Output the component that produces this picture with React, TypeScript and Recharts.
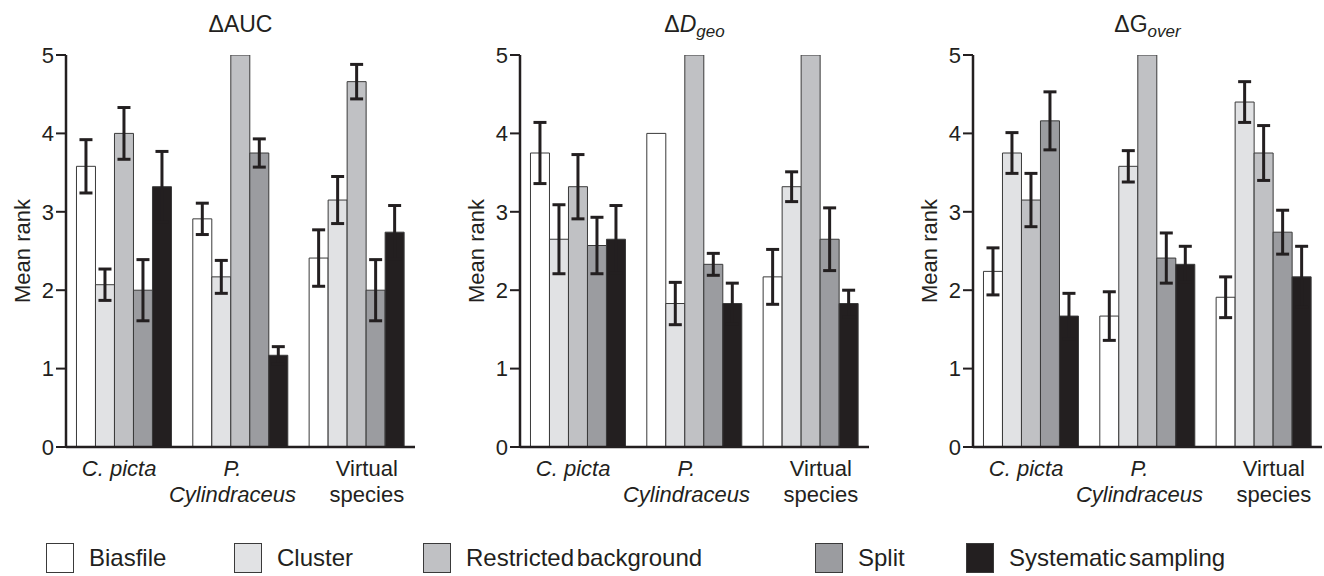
import React from "react";
import { BarChart, Bar, XAxis, YAxis, ErrorBar, Label } from "recharts";

const categories = ["C. picta", "P. Cylindraceus", "Virtual species"];
const categoryLines = [["C. picta"], ["P.", "Cylindraceus"], ["Virtual", "species"]];
const categoryItalic = [true, true, false];
const seriesNames = ["Biasfile", "Cluster", "Restricted background", "Split", "Systematic sampling"];
const yTicks = [0, 1, 2, 3, 4, 5];

// rows = series, cols = categories
const aucMeans = [
  [3.58, 2.91, 2.41],
  [2.07, 2.17, 3.15],
  [4.0, 5.0, 4.66],
  [2.0, 3.75, 2.0],
  [3.32, 1.17, 2.74],
];
const aucErrors = [
  [0.34, 0.2, 0.36],
  [0.2, 0.21, 0.3],
  [0.33, 0, 0.22],
  [0.39, 0.18, 0.39],
  [0.45, 0.11, 0.34],
];
const dgeoMeans = [
  [3.75, 4.0, 2.17],
  [2.65, 1.83, 3.32],
  [3.32, 5.0, 5.0],
  [2.57, 2.33, 2.65],
  [2.65, 1.83, 1.83],
];
const dgeoErrors = [
  [0.39, 0, 0.35],
  [0.44, 0.27, 0.19],
  [0.41, 0, 0],
  [0.36, 0.14, 0.4],
  [0.43, 0.26, 0.17],
];
const goverMeans = [
  [2.24, 1.67, 1.91],
  [3.75, 3.58, 4.4],
  [3.15, 5.0, 3.75],
  [4.16, 2.41, 2.74],
  [1.67, 2.33, 2.17],
];
const goverErrors = [
  [0.3, 0.31, 0.26],
  [0.26, 0.2, 0.26],
  [0.34, 0, 0.35],
  [0.37, 0.32, 0.28],
  [0.29, 0.23, 0.39],
];

const COLORS = ["#ffffff", "#e1e2e4", "#c0c1c4", "#9b9ca0", "#231f20"];
const INK = "#231f20";
const FONT = "Arial, 'Liberation Sans', Helvetica, sans-serif";
const legendLeft = [46, 234, 423, 815, 966];
const labelShift = [-5, -8, 10];

function buildRows(means: number[][], errors: number[][]) {
  return categories.map((name, c) => {
    const row: Record<string, any> = { name };
    seriesNames.forEach((_, s) => {
      row[`s${s}`] = means[s][c];
      row[`e${s}`] = errors[s][c];
    });
    return row;
  });
}

function CategoryTick(props: any) {
  const { x, y, payload } = props;
  const idx = payload.index ?? categories.indexOf(payload.value);
  const lines = categoryLines[idx] || [payload.value];
  const cx = x + (labelShift[idx] || 0);
  return (
    <text
      x={cx}
      y={y}
      textAnchor="middle"
      fill={INK}
      fontSize={22}
      fontFamily={FONT}
      fontStyle={categoryItalic[idx] ? "italic" : "normal"}
    >
      {lines.map((ln: string, i: number) => (
        <tspan key={i} x={cx} dy={i === 0 ? 21 : 26}>
          {ln}
        </tspan>
      ))}
    </text>
  );
}

function Panel({ left, title, means, errors }: { left: number; title: React.ReactNode; means: number[][]; errors: number[][] }) {
  const rows = buildRows(means, errors);
  return (
    <div style={{ position: "absolute", left, top: 0, width: 420, height: 520 }}>
      <div
        style={{
          position: "absolute",
          left: 66,
          width: 349,
          top: 12,
          lineHeight: "24px",
          textAlign: "center",
          fontFamily: FONT,
          fontSize: 23,
          color: INK,
        }}
      >
        {title}
      </div>
      <BarChart
        width={420}
        height={520}
        data={rows}
        margin={{ top: 55, right: 5, bottom: 13, left: 10 }}
        barCategoryGap="9%"
        barGap={0}
      >
        <XAxis
          dataKey="name"
          interval={0}
          height={60}
          tickLine={false}
          axisLine={{ stroke: INK, strokeWidth: 2.5 }}
          tick={<CategoryTick />}
        />
        <YAxis
          domain={[0, 5]}
          ticks={yTicks}
          width={56}
          tickSize={10}
          tickMargin={2}
          allowDataOverflow
          axisLine={{ stroke: INK, strokeWidth: 2.5 }}
          tickLine={{ stroke: INK, strokeWidth: 2 }}
          tick={{ fill: INK, fontSize: 22, fontFamily: FONT }}
        >
          <Label
            value="Mean rank"
            angle={-90}
            position="insideLeft"
            offset={12}
            style={{ textAnchor: "middle", fontSize: 22, fontFamily: FONT, fill: INK }}
          />
        </YAxis>
        {seriesNames.map((name, s) => (
          <Bar
            key={name}
            name={name}
            dataKey={`s${s}`}
            fill={COLORS[s]}
            stroke="#3a3a3a"
            strokeWidth={1}
            isAnimationActive={false}
          >
            <ErrorBar dataKey={`e${s}`} width={6.5} stroke={INK} strokeWidth={3} />
          </Bar>
        ))}
      </BarChart>
    </div>
  );
}

export default function App() {
  return (
    <div
      style={{
        position: "absolute",
        left: 0,
        top: 0,
        width: 1324,
        height: 576,
        background: "#fff",
        fontFamily: FONT,
      }}
    >
      <Panel left={0} title={<span>ΔAUC</span>} means={aucMeans} errors={aucErrors} />
      <Panel
        left={454}
        title={
          <span>
            Δ<i>D</i>
            <sub style={{ fontSize: 17, fontStyle: "italic", verticalAlign: "-5px" }}>geo</sub>
          </span>
        }
        means={dgeoMeans}
        errors={dgeoErrors}
      />
      <Panel
        left={907}
        title={
          <span>
            ΔG<sub style={{ fontSize: 17, fontStyle: "italic", verticalAlign: "-5px" }}>over</sub>
          </span>
        }
        means={goverMeans}
        errors={goverErrors}
      />
      {seriesNames.map((name, s) => (
        <div
          key={name}
          style={{
            position: "absolute",
            left: legendLeft[s],
            top: 543,
            height: 30,
            display: "flex",
            alignItems: "center",
            fontSize: 24,
            wordSpacing: -4,
            color: INK,
          }}
        >
          <span
            style={{
              display: "inline-block",
              boxSizing: "border-box",
              width: 28,
              height: 30,
              background: COLORS[s],
              border: "1.5px solid #3a3a3a",
              marginRight: 15,
            }}
          />
          {name}
        </div>
      ))}
    </div>
  );
}
